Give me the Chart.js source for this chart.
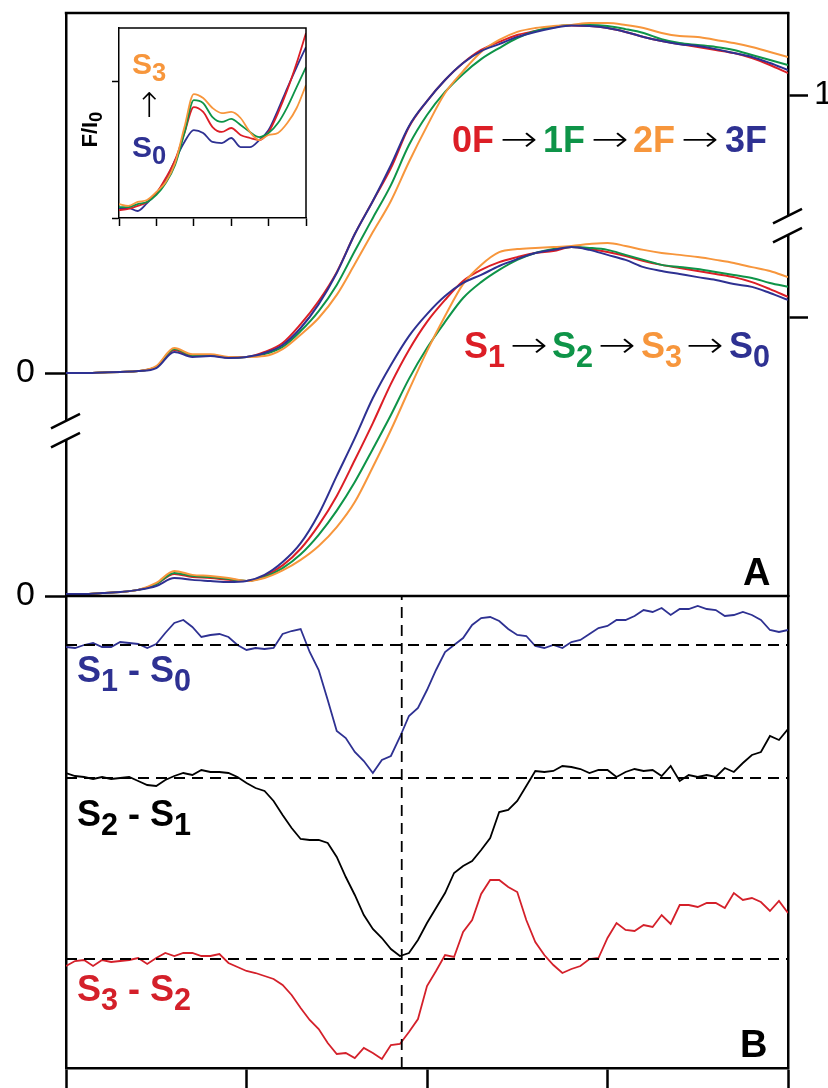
<!DOCTYPE html>
<html>
<head>
<meta charset="utf-8">
<script src="https://cdn.jsdelivr.net/npm/chart.js@4.4.1/dist/chart.umd.min.js"></script>
<style>
  html, body { margin: 0; padding: 0; background: #fff; }
  #wrap { position: relative; width: 828px; height: 1088px; overflow: hidden; font-family: "Liberation Sans", Arial, sans-serif; }
  #main { position: absolute; left: 0; top: 0; }
  #inset { position: absolute; left: 100px; top: 20px; }
  .lbl { position: absolute; white-space: nowrap; font-weight: bold; font-size: 36px; line-height: 36px; }
  .lbl .sub { font-size: 0.85em; position: relative; top: 0.28em; }
  .arr { position: absolute; white-space: nowrap; font-family: "DejaVu Sans", sans-serif; font-weight: 200; color: #000; font-size: 36px; line-height: 36px; transform: scaleX(1.25); transform-origin: left center; }
</style>
</head>
<body>
<div id="wrap">
  <canvas id="main" width="828" height="1088"></canvas>
  <canvas id="inset" width="216" height="215"></canvas>

  <div class="lbl" style="left:452px;top:122px;color:#dc1e26">0F</div>
  <div class="arr" style="left:500px;top:121px">→</div>
  <div class="lbl" style="left:543px;top:122px;color:#0e9448">1F</div>
  <div class="arr" style="left:591px;top:121px">→</div>
  <div class="lbl" style="left:633px;top:122px;color:#f7963c">2F</div>
  <div class="arr" style="left:681px;top:121px">→</div>
  <div class="lbl" style="left:725px;top:122px;color:#2e3192">3F</div>

  <div class="lbl" style="left:464px;top:328px;color:#dc1e26">S<span class="sub">1</span></div>
  <div class="arr" style="left:510px;top:327px">→</div>
  <div class="lbl" style="left:552px;top:328px;color:#0e9448">S<span class="sub">2</span></div>
  <div class="arr" style="left:598px;top:327px">→</div>
  <div class="lbl" style="left:641px;top:328px;color:#f7963c">S<span class="sub">3</span></div>
  <div class="arr" style="left:686px;top:327px">→</div>
  <div class="lbl" style="left:729px;top:328px;color:#2e3192">S<span class="sub">0</span></div>

  <div class="lbl" style="left:743px;top:553px;font-size:38px;line-height:38px;color:#000">A</div>
  <div class="lbl" style="left:740px;top:1025px;font-size:38px;line-height:38px;color:#000">B</div>

  <div class="lbl" style="left:77px;top:652px;color:#2e3192">S<span class="sub">1</span> - S<span class="sub">0</span></div>
  <div class="lbl" style="left:77px;top:796px;color:#000">S<span class="sub">2</span> - S<span class="sub">1</span></div>
  <div class="lbl" style="left:77px;top:971px;color:#d4202a">S<span class="sub">3</span> - S<span class="sub">2</span></div>

  <div class="lbl" style="left:132px;top:49px;font-size:30px;line-height:30px;color:#f7963c">S<span class="sub">3</span></div>
  <div class="arr" style="left:135px;top:88px;font-size:34px;line-height:34px;transform:none">↑</div>
  <div class="lbl" style="left:132px;top:132px;font-size:30px;line-height:30px;color:#2e3192">S<span class="sub">0</span></div>
  <div class="lbl" style="left:60px;top:117px;width:60px;text-align:center;font-size:22px;line-height:24px;color:#000;transform:rotate(-90deg)">F/I<span class="sub">0</span></div>
</div>

<script>
// energy grid of the spectra (eV)
const energy = [6540, 6540.5, 6541, 6541.5, 6542, 6542.5, 6543, 6543.5, 6544, 6544.5,
  6545, 6545.5, 6546, 6546.5, 6547, 6547.5, 6548, 6548.5, 6549, 6549.5,
  6550, 6550.5, 6551, 6551.5, 6552, 6552.5, 6553, 6553.5, 6554, 6554.5,
  6555, 6555.5, 6556, 6556.5, 6557, 6557.5, 6558, 6558.5, 6559, 6559.5, 6560];

// flash-number spectra (upper set), normalised F/I0
const flash0F = [0.000, 0.000, 0.002, 0.004, 0.007, 0.022, 0.083, 0.061, 0.063, 0.056,
  0.058, 0.076, 0.108, 0.176, 0.259, 0.363, 0.500, 0.619, 0.737, 0.885,
  0.978, 1.054, 1.115, 1.162, 1.191, 1.216, 1.230, 1.245, 1.250, 1.248,
  1.241, 1.227, 1.209, 1.194, 1.183, 1.173, 1.162, 1.151, 1.133, 1.108, 1.079];
const flash1F = [0.000, 0.000, 0.002, 0.004, 0.007, 0.022, 0.086, 0.065, 0.065, 0.056,
  0.058, 0.068, 0.094, 0.151, 0.223, 0.317, 0.439, 0.558, 0.676, 0.820,
  0.928, 1.011, 1.076, 1.129, 1.169, 1.205, 1.230, 1.245, 1.252, 1.252,
  1.248, 1.237, 1.223, 1.201, 1.187, 1.180, 1.173, 1.162, 1.144, 1.126, 1.108];
const flash2F = [0.000, 0.000, 0.002, 0.004, 0.007, 0.025, 0.090, 0.068, 0.068, 0.058,
  0.058, 0.061, 0.086, 0.138, 0.198, 0.281, 0.392, 0.507, 0.619, 0.759,
  0.888, 1.007, 1.086, 1.155, 1.198, 1.227, 1.241, 1.248, 1.252, 1.259,
  1.259, 1.252, 1.241, 1.223, 1.212, 1.209, 1.198, 1.187, 1.173, 1.155, 1.137];
const flash3F = [0.000, 0.000, 0.002, 0.004, 0.007, 0.018, 0.076, 0.058, 0.061, 0.054,
  0.058, 0.072, 0.101, 0.162, 0.248, 0.360, 0.500, 0.619, 0.748, 0.888,
  0.978, 1.054, 1.115, 1.158, 1.183, 1.209, 1.227, 1.241, 1.250, 1.248,
  1.241, 1.227, 1.209, 1.194, 1.183, 1.176, 1.165, 1.151, 1.137, 1.115, 1.090];

// S-state spectra (lower set)
const stateS1 = [0.007, 0.007, 0.011, 0.014, 0.022, 0.043, 0.079, 0.068, 0.065, 0.058,
  0.054, 0.072, 0.110, 0.170, 0.255, 0.360, 0.489, 0.622, 0.763, 0.885,
  0.986, 1.065, 1.133, 1.173, 1.201, 1.219, 1.234, 1.241, 1.255, 1.248,
  1.237, 1.223, 1.205, 1.191, 1.180, 1.169, 1.158, 1.147, 1.129, 1.104, 1.076];
const stateS2 = [0.007, 0.007, 0.011, 0.014, 0.022, 0.043, 0.083, 0.072, 0.068, 0.061,
  0.054, 0.068, 0.100, 0.150, 0.220, 0.307, 0.410, 0.529, 0.651, 0.781,
  0.892, 0.986, 1.072, 1.129, 1.173, 1.209, 1.234, 1.248, 1.255, 1.252,
  1.245, 1.227, 1.209, 1.191, 1.183, 1.176, 1.165, 1.155, 1.144, 1.126, 1.112];
const stateS3 = [0.007, 0.007, 0.011, 0.014, 0.022, 0.047, 0.090, 0.076, 0.072, 0.065,
  0.054, 0.065, 0.092, 0.130, 0.180, 0.248, 0.338, 0.464, 0.597, 0.741,
  0.881, 1.007, 1.122, 1.191, 1.237, 1.248, 1.252, 1.255, 1.259, 1.266,
  1.270, 1.259, 1.245, 1.234, 1.227, 1.219, 1.209, 1.198, 1.183, 1.169, 1.147];
const stateS0 = [0.007, 0.007, 0.011, 0.014, 0.022, 0.036, 0.065, 0.058, 0.054, 0.050,
  0.054, 0.076, 0.122, 0.190, 0.295, 0.432, 0.568, 0.712, 0.831, 0.935,
  1.014, 1.079, 1.126, 1.155, 1.187, 1.212, 1.234, 1.245, 1.255, 1.245,
  1.227, 1.209, 1.183, 1.169, 1.158, 1.147, 1.137, 1.122, 1.112, 1.090, 1.065];

// energy grid of the difference spectra (eV)
const diffEnergy = [6540, 6540.25, 6540.5, 6540.75, 6541, 6541.25, 6541.5, 6541.75, 6542, 6542.25,
  6542.5, 6542.75, 6543, 6543.25, 6543.5, 6543.75, 6544, 6544.25, 6544.5, 6544.75,
  6545, 6545.25, 6545.5, 6545.75, 6546, 6546.25, 6546.5, 6546.75, 6547, 6547.25,
  6547.5, 6547.75, 6548, 6548.25, 6548.5, 6548.75, 6549, 6549.25, 6549.5, 6549.75,
  6550, 6550.25, 6550.5, 6550.75, 6551, 6551.25, 6551.5, 6551.75, 6552, 6552.25,
  6552.5, 6552.75, 6553, 6553.25, 6553.5, 6553.75, 6554, 6554.25, 6554.5, 6554.75,
  6555, 6555.25, 6555.5, 6555.75, 6556, 6556.25, 6556.5, 6556.75, 6557, 6557.25,
  6557.5, 6557.75, 6558, 6558.25, 6558.5, 6558.75, 6559, 6559.25, 6559.5, 6559.75, 6560];

const diffS1S0 = [-0.02, -0.03, 0.00, 0.02, -0.02, -0.02, 0.03, 0.02, 0.01, -0.03,
  0.01, 0.12, 0.22, 0.25, 0.18, 0.08, 0.10, 0.11, 0.08, 0.00,
  -0.05, -0.03, -0.04, -0.03, 0.11, 0.14, 0.16, -0.07, -0.25, -0.55,
  -0.86, -0.93, -1.07, -1.16, -1.28, -1.15, -1.11, -0.92, -0.71, -0.63,
  -0.45, -0.25, -0.07, 0.00, 0.07, 0.20, 0.27, 0.28, 0.24, 0.16,
  0.10, 0.09, -0.01, -0.03, 0.00, -0.03, 0.03, 0.05, 0.11, 0.17,
  0.19, 0.25, 0.25, 0.29, 0.35, 0.33, 0.37, 0.30, 0.36, 0.36,
  0.39, 0.36, 0.35, 0.29, 0.30, 0.33, 0.30, 0.25, 0.15, 0.13, 0.15];
const diffS2S1 = [0.05, 0.02, 0.01, -0.01, 0.01, -0.01, 0.00, 0.01, -0.03, -0.07,
  -0.08, -0.02, 0.02, 0.05, 0.03, 0.08, 0.06, 0.06, 0.05, 0.01,
  -0.05, -0.10, -0.13, -0.23, -0.37, -0.50, -0.61, -0.62, -0.62, -0.65,
  -0.79, -0.99, -1.17, -1.37, -1.51, -1.60, -1.71, -1.78, -1.75, -1.62,
  -1.45, -1.30, -1.15, -0.95, -0.88, -0.83, -0.72, -0.60, -0.34, -0.32,
  -0.23, -0.08, 0.07, 0.06, 0.07, 0.12, 0.11, 0.09, 0.05, 0.08,
  0.08, 0.01, 0.06, 0.09, 0.07, 0.08, 0.02, 0.12, -0.03, 0.03,
  0.01, 0.03, 0.01, 0.10, 0.06, 0.15, 0.23, 0.26, 0.42, 0.38, 0.49];
const diffS3S2 = [-0.07, -0.02, -0.01, -0.07, -0.01, -0.03, -0.02, -0.01, 0.01, -0.05,
  0.01, 0.06, 0.03, 0.06, 0.06, 0.03, 0.03, 0.05, -0.04, -0.08,
  -0.12, -0.14, -0.17, -0.20, -0.26, -0.36, -0.49, -0.61, -0.70, -0.84,
  -0.95, -0.94, -0.99, -0.89, -0.94, -1.00, -0.86, -0.85, -0.73, -0.60,
  -0.27, -0.12, 0.04, 0.02, 0.27, 0.39, 0.65, 0.79, 0.79, 0.72,
  0.67, 0.39, 0.17, 0.04, -0.06, -0.14, -0.10, -0.07, 0.00, 0.01,
  0.21, 0.36, 0.29, 0.28, 0.34, 0.32, 0.44, 0.35, 0.54, 0.54,
  0.52, 0.56, 0.56, 0.51, 0.66, 0.59, 0.61, 0.57, 0.48, 0.58, 0.46];

// inset: pre-edge region
const insetEnergy = [6539, 6539.5, 6540, 6540.5, 6541, 6541.5, 6542, 6542.5, 6543, 6543.5,
  6544, 6544.5, 6545, 6545.5, 6546, 6546.5, 6547, 6547.5, 6548, 6548.5, 6549];
const insetS0 = [0.073, 0.073, 0.051, 0.109, 0.182, 0.277, 0.423, 0.555, 0.642, 0.620,
  0.555, 0.547, 0.584, 0.518, 0.518, 0.569, 0.642, 0.788, 0.949, 1.102, 1.248];
const insetS1 = [0.058, 0.066, 0.088, 0.117, 0.182, 0.292, 0.423, 0.620, 0.810, 0.774,
  0.664, 0.628, 0.657, 0.606, 0.584, 0.569, 0.628, 0.766, 0.934, 1.131, 1.350];
const insetS2 = [0.080, 0.080, 0.102, 0.117, 0.168, 0.255, 0.387, 0.620, 0.861, 0.839,
  0.737, 0.701, 0.723, 0.679, 0.628, 0.591, 0.620, 0.693, 0.810, 0.956, 1.102];
const insetS3 = [0.102, 0.088, 0.117, 0.131, 0.190, 0.263, 0.401, 0.664, 0.905, 0.876,
  0.803, 0.766, 0.774, 0.730, 0.628, 0.569, 0.606, 0.621, 0.693, 0.803, 0.971];

// axes
const xTicks = [6540, 6545, 6550, 6555, 6560];
const insetXTicks = [6539, 6541, 6543, 6545, 6547, 6549];
const insetYTicks = [0, 1];
const leftTicks = [0, 0.802];
const rightTicks = [1, 1.802];
const flashOffset = 0.802;
const diffOffsets = [4.23, 2.90, 1.09];
const markerEnergy = 6549.3;
const leftBreak = 0.596;
const rightBreak = 1.333;

const RED = "#dc1e26";
const GREEN = "#0e9448";
const ORANGE = "#f7963c";
const NAVY = "#2e3192";
const DIFF_RED = "#d4202a";
const FONT = "'Liberation Sans', Arial, sans-serif";

const toPoints = (xs, ys, off = 0) => xs.map((x, i) => ({ x, y: ys[i] + off }));

function spectrum(values, color, axis, off) {
  return {
    data: toPoints(energy, values, off),
    borderColor: color,
    borderWidth: 2,
    cubicInterpolationMode: "monotone",
    yAxisID: axis,
  };
}

function diffLine(values, color, off) {
  return {
    data: toPoints(diffEnergy, values, off),
    borderColor: color,
    borderWidth: 1.8,
    tension: 0,
    yAxisID: "yB",
  };
}

function dashed(points) {
  return {
    data: points,
    borderColor: "#000",
    borderWidth: 1.8,
    borderDash: [11, 7],
    tension: 0,
    yAxisID: "yB",
  };
}

function drawBreak(ctx, x, y) {
  ctx.fillStyle = "#fff";
  ctx.fillRect(x - 4, y - 9.5, 8, 19);
  ctx.beginPath();
  [-9.5, 9.5].forEach((d) => {
    ctx.moveTo(x - 15, y + d + 7.5);
    ctx.lineTo(x + 14, y + d - 7);
  });
  ctx.lineWidth = 2.5;
  ctx.strokeStyle = "#000";
  ctx.stroke();
}

const frame = {
  id: "frame",
  afterDraw(chart) {
    const { ctx, chartArea: a, scales } = chart;
    ctx.save();
    ctx.strokeStyle = "#000";
    ctx.lineWidth = 2.5;
    ctx.beginPath();
    ctx.moveTo(a.left - 1.2, a.top);
    ctx.lineTo(a.right + 1.2, a.top);
    const ySep = scales.yA.getPixelForValue(0);
    ctx.moveTo(a.left, ySep);
    ctx.lineTo(a.right, ySep);
    ctx.stroke();
    drawBreak(ctx, a.left, scales.yA.getPixelForValue(leftBreak));
    drawBreak(ctx, a.right, scales.yAR.getPixelForValue(rightBreak));
    ctx.restore();
  },
};

const noPad = (s) => {
  s.paddingTop = 0;
  s.paddingBottom = 0;
  s.paddingLeft = 0;
  s.paddingRight = 0;
};

const border = { color: "#000", width: 2.5 };
const tickGrid = (len) => ({
  drawOnChartArea: false,
  drawTicks: true,
  tickLength: len,
  tickWidth: 2.5,
  tickColor: "#000",
});

const plainAxis = (pos, stack, weight, max, width) => ({
  type: "linear",
  position: pos,
  stack,
  stackWeight: weight,
  min: 0,
  max,
  ticks: { display: false },
  grid: { display: false },
  border,
  afterFit: (s) => { s.width = width; noPad(s); },
});

new Chart(document.getElementById("main"), {
  type: "line",
  data: {
    datasets: [
      spectrum(flash3F, NAVY, "yA", flashOffset),
      spectrum(flash2F, ORANGE, "yA", flashOffset),
      spectrum(flash1F, GREEN, "yA", flashOffset),
      spectrum(flash0F, RED, "yA", flashOffset),
      spectrum(stateS0, NAVY, "yA", 0),
      spectrum(stateS3, ORANGE, "yA", 0),
      spectrum(stateS2, GREEN, "yA", 0),
      spectrum(stateS1, RED, "yA", 0),
      dashed([{ x: 6540, y: diffOffsets[0] }, { x: 6560, y: diffOffsets[0] }]),
      dashed([{ x: 6540, y: diffOffsets[1] }, { x: 6560, y: diffOffsets[1] }]),
      dashed([{ x: 6540, y: diffOffsets[2] }, { x: 6560, y: diffOffsets[2] }]),
      dashed([{ x: markerEnergy, y: 0 }, { x: markerEnergy, y: 4.72 }]),
      diffLine(diffS1S0, NAVY, diffOffsets[0]),
      diffLine(diffS2S1, "#000", diffOffsets[1]),
      diffLine(diffS3S2, DIFF_RED, diffOffsets[2]),
    ],
  },
  options: {
    responsive: false,
    animation: false,
    devicePixelRatio: 1,
    layout: { padding: { top: 13, left: 0, right: 0, bottom: 0 } },
    elements: { point: { radius: 0 } },
    plugins: { legend: { display: false }, tooltip: { enabled: false } },
    scales: {
      x: {
        type: "linear",
        min: 6540,
        max: 6560,
        afterBuildTicks: (s) => { s.ticks = xTicks.map((v) => ({ value: v })); },
        afterFit: (s) => { s.height = 20; noPad(s); },
        ticks: { display: false },
        grid: tickGrid(20),
        border,
      },
      yB: plainAxis("left", "L", 472, 4.72, 66),
      yA: {
        type: "linear",
        position: "left",
        stack: "L",
        stackWeight: 583,
        min: 0,
        max: 2.097,
        afterBuildTicks: (s) => { s.ticks = leftTicks.map((v) => ({ value: v })); },
        afterFit: (s) => { s.width = 66; noPad(s); },
        ticks: {
          color: "#000",
          font: { family: FONT, size: 34 },
          padding: 10,
          autoSkip: false,
          callback: () => "0",
        },
        grid: tickGrid(21),
        border,
      },
      yAR: {
        type: "linear",
        position: "right",
        stack: "R",
        stackWeight: 583,
        min: 0,
        max: 2.097,
        afterBuildTicks: (s) => { s.ticks = rightTicks.map((v) => ({ value: v })); },
        afterFit: (s) => { s.width = 40; noPad(s); },
        ticks: {
          color: "#000",
          font: { family: FONT, size: 34 },
          padding: 6,
          autoSkip: false,
          callback: (v) => (v > 1.5 ? "1" : ""),
        },
        grid: tickGrid(20),
        border,
      },
      yBR: plainAxis("right", "R", 472, 4.72, 40),
    },
  },
  plugins: [frame],
});

// inset
const insetFrame = {
  id: "insetFrame",
  afterDraw(chart) {
    const { ctx, chartArea: a } = chart;
    ctx.save();
    ctx.strokeStyle = "#000";
    ctx.lineWidth = 1.5;
    ctx.beginPath();
    ctx.moveTo(a.left, a.top);
    ctx.lineTo(a.right, a.top);
    ctx.lineTo(a.right, a.bottom);
    ctx.stroke();
    ctx.restore();
  },
};

const insetLine = (values, color) => ({
  data: toPoints(insetEnergy, values),
  borderColor: color,
  borderWidth: 1.8,
  cubicInterpolationMode: "monotone",
});

const thinGrid = (len) => ({
  drawOnChartArea: false,
  drawTicks: true,
  tickLength: len,
  tickWidth: 1.5,
  tickColor: "#000",
});

new Chart(document.getElementById("inset"), {
  type: "line",
  data: {
    datasets: [
      insetLine(insetS3, ORANGE),
      insetLine(insetS2, GREEN),
      insetLine(insetS1, RED),
      insetLine(insetS0, NAVY),
    ],
  },
  options: {
    responsive: false,
    animation: false,
    devicePixelRatio: 1,
    layout: { padding: { top: 8, right: 10, left: 0, bottom: 0 } },
    elements: { point: { radius: 0 } },
    plugins: { legend: { display: false }, tooltip: { enabled: false } },
    scales: {
      x: {
        type: "linear",
        min: 6539,
        max: 6549,
        afterBuildTicks: (s) => { s.ticks = insetXTicks.map((v) => ({ value: v })); },
        afterFit: (s) => { s.height = 17; noPad(s); },
        ticks: { display: false },
        grid: thinGrid(8),
        border: { color: "#000", width: 1.5 },
      },
      y: {
        type: "linear",
        min: 0,
        max: 1.387,
        afterBuildTicks: (s) => { s.ticks = insetYTicks.map((v) => ({ value: v })); },
        afterFit: (s) => { s.width = 19; noPad(s); },
        ticks: { display: false },
        grid: thinGrid(7),
        border: { color: "#000", width: 1.5 },
      },
    },
  },
  plugins: [insetFrame],
});
</script>
</body>
</html>
